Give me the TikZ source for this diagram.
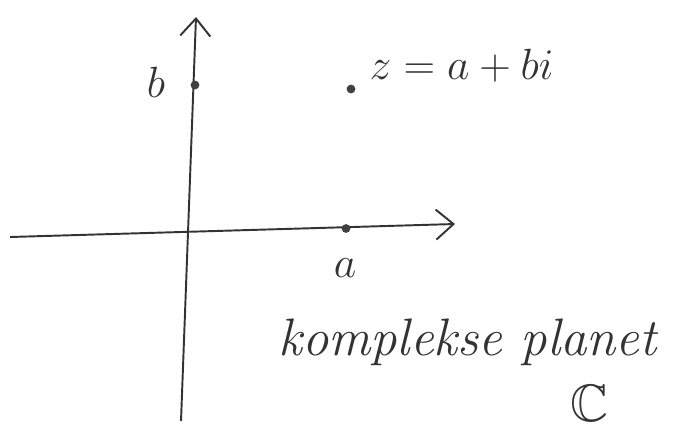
\documentclass[tikz,border=0pt]{standalone}
\usepackage{amsmath,amssymb}
\usepackage{xcolor}
\usetikzlibrary{positioning,arrows.meta}
\tikzset{
axis/.style={
draw=black!80,
line width=1.1pt,
-{Straight Barb[length=3.5mm,width=6mm]}
},
pt/.style={
circle,
fill=black!75,
inner sep=0pt,
minimum size=5pt
},
hand/.style={
font=\fontsize{30}{36}\selectfont,
text=black!80,
inner sep=1pt
}
}

\begin{document}
\begin{tikzpicture}
\useasboundingbox (0,0) rectangle (13.84,8.56);

% axes
\coordinate (xs) at (0.2,3.82);
\coordinate (xe) at (9.1,4.08);
\coordinate (ys) at (3.62,0.14);
\coordinate (ye) at (3.92,8.22);
\draw[axis](xs)--(xe);
\draw[axis](ys)--(ye);

% points
\node[pt](pb) at (3.9,6.86){};
\node[pt](pz) at (7.02,6.78){};
\node[pt](pa) at (6.92,3.99){};

% labels
\node[hand](lb) at (3.12,6.92){$b$};
\node[hand,anchor=west](lz) at (7.35,7.25){$z = a+bi$};
\node[hand](la) at (6.9,3.2){$a$};
\node[hand](lplan) at (9.35,1.72){\itshape komplekse planet};
\node[hand](lc) at (11.8,0.5){$\mathbb{C}$};

\end{tikzpicture}
\end{document}
